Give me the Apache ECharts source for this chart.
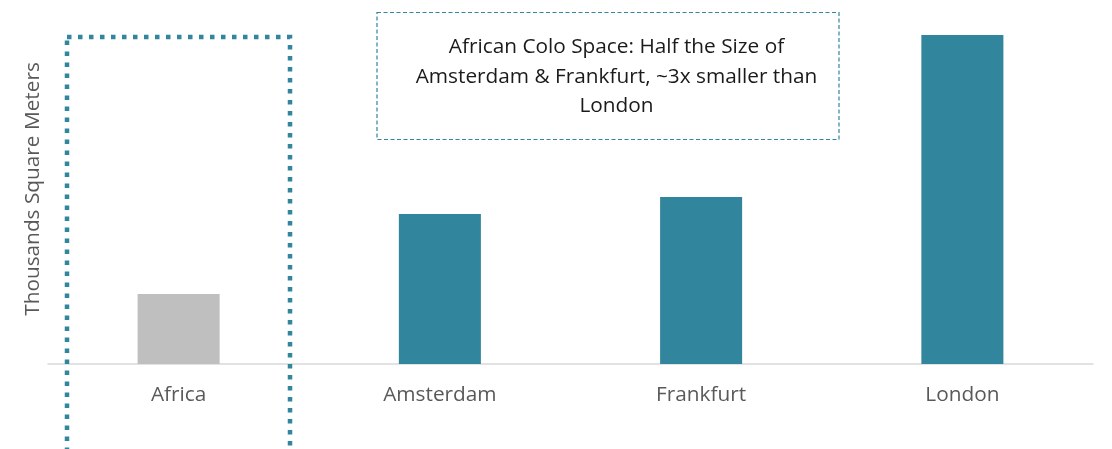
<!DOCTYPE html>
<html>
<head>
<meta charset="utf-8">
<script src="https://cdn.jsdelivr.net/npm/echarts@6/dist/echarts.min.js"></script>
<style>html,body{margin:0;padding:0;background:#fff;}#c{width:1112px;height:449px;}</style>
</head>
<body>
<div id="c"></div>
<script>
const categories = ['Africa', 'Amsterdam', 'Frankfurt', 'London'];
const values = [70, 150, 167, 329];
const barColors = ['#BFBFBF', '#31859C', '#31859C', '#31859C'];
const yAxisName = 'Thousands Square Meters';
const noteLines = ['African Colo Space: Half the Size of', 'Amsterdam & Frankfurt, ~3x smaller than', 'London'];

const chart = echarts.init(document.getElementById('c'), null, {renderer: 'canvas'});
const FONT = '"Open Sans", sans-serif';
chart.setOption({
  animation: false,
  grid: {left: 48, right: 19, top: 14, bottom: 85},
  xAxis: {
    type: 'category',
    data: categories,
    axisLine: {lineStyle: {color: '#D9D9D9', width: 1.5}},
    axisTick: {show: false},
    axisLabel: {color: '#595959', fontSize: 20.8, fontFamily: FONT, margin: 21}
  },
  yAxis: {
    type: 'value',
    min: 0, max: 350,
    name: yAxisName,
    nameLocation: 'middle',
    nameGap: 4,
    nameTextStyle: {color: '#595959', fontSize: 20.8, fontFamily: FONT},
    axisLabel: {show: false},
    axisLine: {show: false},
    axisTick: {show: false},
    splitLine: {show: false}
  },
  series: [{
    type: 'bar',
    barWidth: '31.4%',
    data: values.map((v, i) => ({value: v, itemStyle: {color: barColors[i]}}))
  }],
  graphic: [
    {
      type: 'rect',
      shape: {x: 67, y: 37, width: 223, height: 430},
      style: {fill: 'none', stroke: '#31859C', lineWidth: 4.5, lineDash: [4.5, 6.5]},
      z: 10
    },
    {
      type: 'rect',
      shape: {x: 377, y: 12.5, width: 462, height: 127},
      style: {fill: '#fff', stroke: '#31859C', lineWidth: 1.2, lineDash: [4, 2.5]},
      z: 10
    },
    {
      type: 'text',
      x: 616.5, y: 77,
      style: {
        text: noteLines.join('\n'),
        fill: '#1A1A1A',
        font: '20.8px ' + FONT,
        align: 'center',
        verticalAlign: 'middle',
        lineHeight: 29.5
      },
      z: 11
    }
  ]
});
</script>
</body>
</html>
